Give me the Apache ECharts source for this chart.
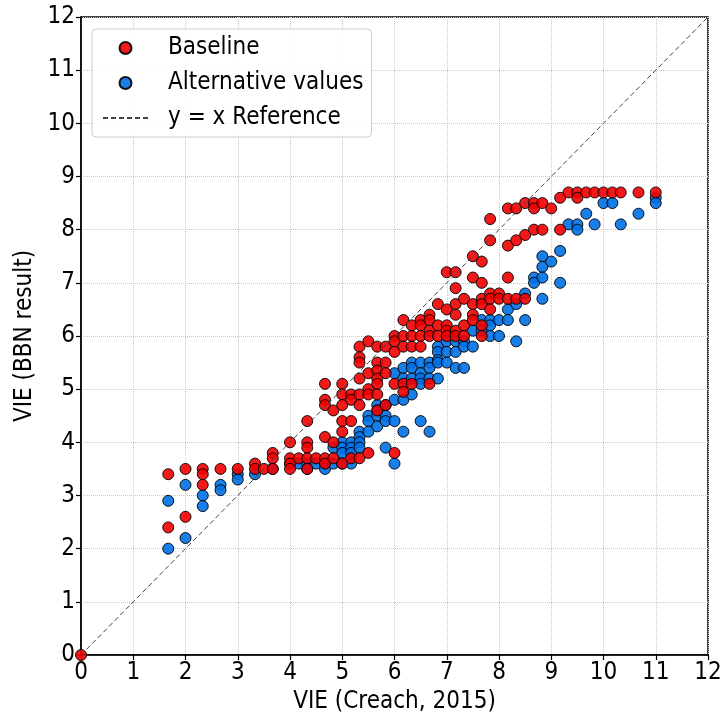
<!DOCTYPE html>
<html>
<head>
<meta charset="utf-8">
<script src="https://cdn.jsdelivr.net/npm/echarts@6/dist/echarts.min.js"></script>
<style>
  html, body { margin: 0; padding: 0; background: #fff; }
  #chart { width: 722px; height: 714px; }
</style>
</head>
<body>
<div id="chart"></div>
<script>
// 坐标轴刻度
const ticks = [0, 1, 2, 3, 4, 5, 6, 7, 8, 9, 10, 11, 12];
// y = x 参考线两端
const refLine = [0, 12];

// Baseline (red)
const baseline = [
  [0, 0],
  [1.67, 3.4], [1.67, 2.4],
  [2.0, 3.5], [2.0, 2.6],
  [2.33, 3.5], [2.33, 3.4], [2.33, 3.2],
  [2.67, 3.5],
  [3.0, 3.5],
  [3.33, 3.6], [3.33, 3.5], [3.5, 3.5],
  [3.67, 3.8], [3.67, 3.7], [3.67, 3.5],
  [4.0, 4.0], [4.0, 3.7], [4.0, 3.6], [4.0, 3.5],
  [4.17, 3.7],
  [4.33, 4.4], [4.33, 4.0], [4.33, 3.9], [4.33, 3.7], [4.33, 3.5],
  [4.5, 3.7],
  [4.67, 5.1], [4.67, 4.8], [4.67, 4.7], [4.67, 4.1], [4.67, 3.7], [4.67, 3.6],
  [4.83, 4.6], [4.83, 4.0], [4.83, 3.7],
  [5.0, 5.1], [5.0, 4.9], [5.0, 4.7], [5.0, 4.4], [5.0, 4.2], [5.0, 3.6],
  [5.17, 4.9], [5.17, 4.8], [5.17, 4.4], [5.17, 3.7],
  [5.33, 5.8], [5.33, 5.6], [5.33, 5.5], [5.33, 5.2], [5.33, 4.9], [5.33, 4.7], [5.33, 3.7],
  [5.5, 5.9], [5.5, 5.3], [5.5, 5.0], [5.5, 4.9], [5.5, 3.8],
  [5.67, 5.8], [5.67, 5.5], [5.67, 5.35], [5.67, 5.2], [5.67, 5.1], [5.67, 4.9], [5.67, 4.6],
  [5.83, 5.8], [5.83, 5.5], [5.83, 5.3], [5.83, 4.7],
  [6.0, 6.0], [6.0, 5.9], [6.0, 5.7], [6.0, 5.1], [6.0, 3.8],
  [6.17, 6.3], [6.17, 6.0], [6.17, 5.8], [6.17, 5.1], [6.17, 4.95],
  [6.33, 6.2], [6.33, 6.0], [6.33, 5.8], [6.33, 5.1],
  [6.5, 6.3], [6.5, 6.2], [6.5, 6.0], [6.5, 5.8],
  [6.67, 6.4], [6.67, 6.3], [6.67, 6.1], [6.67, 6.0], [6.67, 5.1],
  [6.83, 6.6], [6.83, 6.2], [6.83, 6.0],
  [7.0, 7.2], [7.0, 6.5], [7.0, 6.2], [7.0, 6.1], [7.0, 6.0],
  [7.17, 7.2], [7.17, 6.9], [7.17, 6.6], [7.17, 6.4], [7.17, 6.1], [7.17, 6.0],
  [7.33, 6.7], [7.33, 6.2], [7.33, 6.0],
  [7.5, 7.5], [7.5, 7.1], [7.5, 6.6], [7.5, 6.4], [7.5, 6.3],
  [7.67, 7.4], [7.67, 7.0], [7.67, 6.7], [7.67, 6.6], [7.67, 6.2], [7.67, 6.0],
  [7.83, 8.2], [7.83, 7.8], [7.83, 6.8], [7.83, 6.7], [7.83, 6.5],
  [8.0, 6.8], [8.0, 6.7],
  [8.17, 8.4], [8.17, 7.7], [8.17, 7.1], [8.17, 6.7],
  [8.33, 8.4], [8.33, 7.8], [8.33, 6.7],
  [8.5, 8.5], [8.5, 7.9], [8.5, 6.7],
  [8.67, 8.5], [8.67, 8.4], [8.67, 8.0],
  [8.83, 8.5], [8.83, 8.0],
  [9.0, 8.4],
  [9.17, 8.6], [9.17, 8.0],
  [9.33, 8.7], [9.5, 8.7], [9.5, 8.6], [9.67, 8.7], [9.83, 8.7], [10.0, 8.7],
  [10.17, 8.7], [10.33, 8.7], [10.67, 8.7], [11.0, 8.7]
];

// Alternative values (blue)
const alternative = [
  [1.67, 2.9], [1.67, 2.0],
  [2.0, 3.2], [2.0, 2.2],
  [2.33, 3.0], [2.33, 2.8],
  [2.67, 3.2], [2.67, 3.1],
  [3.0, 3.4], [3.0, 3.3],
  [3.33, 3.4],
  [3.67, 3.5],
  [4.0, 3.6], [4.17, 3.6],
  [4.33, 3.6], [4.33, 3.5],
  [4.5, 3.6],
  [4.67, 3.6], [4.67, 3.5],
  [4.83, 3.9], [4.83, 3.6],
  [5.0, 4.0], [5.0, 3.9], [5.0, 3.8], [5.0, 3.6],
  [5.17, 4.0], [5.17, 3.9], [5.17, 3.8], [5.17, 3.6],
  [5.33, 4.2], [5.33, 4.1], [5.33, 4.0], [5.33, 3.9],
  [5.5, 4.5], [5.5, 4.4], [5.5, 4.2],
  [5.67, 4.7], [5.67, 4.6], [5.67, 4.5], [5.67, 4.3],
  [5.83, 4.7], [5.83, 4.5], [5.83, 4.4], [5.83, 3.9],
  [6.0, 5.3], [6.0, 4.8], [6.0, 4.4], [6.0, 3.6],
  [6.17, 5.4], [6.17, 5.2], [6.17, 4.8], [6.17, 4.2],
  [6.33, 5.5], [6.33, 5.4], [6.33, 5.2], [6.33, 4.9],
  [6.5, 5.5], [6.5, 5.3], [6.5, 5.2], [6.5, 5.1], [6.5, 4.4],
  [6.67, 5.5], [6.67, 5.4], [6.67, 5.2], [6.67, 4.2],
  [6.83, 5.8], [6.83, 5.7], [6.83, 5.55], [6.83, 5.5], [6.83, 5.2],
  [7.0, 5.9], [7.0, 5.7], [7.0, 5.5],
  [7.17, 5.9], [7.17, 5.7], [7.17, 5.4],
  [7.33, 5.9], [7.33, 5.8], [7.33, 5.4],
  [7.5, 6.1], [7.5, 5.8],
  [7.67, 6.3], [7.67, 6.1],
  [7.83, 6.3], [7.83, 6.2], [7.83, 6.0],
  [8.0, 6.3], [8.0, 6.0],
  [8.17, 6.5], [8.17, 6.3],
  [8.33, 6.6], [8.33, 5.9],
  [8.5, 6.8], [8.5, 6.3],
  [8.67, 7.1], [8.67, 7.0],
  [8.83, 7.5], [8.83, 7.3], [8.83, 7.1], [8.83, 6.7],
  [9.0, 7.4],
  [9.17, 7.6], [9.17, 7.0],
  [9.33, 8.1], [9.5, 8.1], [9.5, 8.0], [9.67, 8.3], [9.83, 8.1],
  [10.0, 8.5], [10.17, 8.5], [10.33, 8.1], [10.67, 8.3], [11.0, 8.6], [11.0, 8.5]
];

const font = '"DejaVu Sans Condensed", "DejaVu Sans"';
let chart = echarts.init(document.getElementById('chart'));

let axisCommon = {
  type: 'value',
  min: ticks[0],
  max: ticks[ticks.length - 1],
  interval: 1,
  nameLocation: 'middle',
  nameTextStyle: { fontFamily: font, fontSize: 24, color: '#000' },
  axisLine: { show: true, lineStyle: { color: '#000', width: 1.5 } },
  axisTick: { show: true, inside: false, length: 5, lineStyle: { color: '#000', width: 1.2 } },
  axisLabel: { fontFamily: font, fontSize: 24, color: '#000', margin: 6 },
  splitLine: { show: true, lineStyle: { color: '#c8c8c8', type: 'dotted', width: 1 } }
};

let option = {
  animation: false,
  backgroundColor: '#fff',
  grid: {
    left: 81, right: 14, top: 17, bottom: 59,
    outerBoundsMode: 'none',
    containLabel: false,
    show: true, borderColor: '#000', borderWidth: 1.5
  },
  legend: {
    data: [
      'Baseline',
      'Alternative values',
      { name: 'y = x Reference', itemStyle: { opacity: 0 } }
    ],
    orient: 'vertical',
    left: 92,
    top: 29,
    padding: [6, 8, 6, 10],
    itemGap: 9,
    itemWidth: 45,
    itemHeight: 12,
    borderColor: '#ccc',
    borderWidth: 1,
    borderRadius: 4,
    backgroundColor: 'rgba(255,255,255,0.85)',
    textStyle: { fontFamily: font, fontSize: 24, color: '#000', lineHeight: 26, padding: [0, 0, 0, 15] }
  },
  xAxis: Object.assign({}, axisCommon, { name: 'VIE (Creach, 2015)', nameGap: 28 }),
  yAxis: Object.assign({}, axisCommon, { name: 'VIE (BBN result)', nameGap: 39 }),
  series: [
    {
      name: 'Alternative values',
      type: 'scatter',
      symbol: 'circle',
      symbolSize: 11,
      data: alternative,
      itemStyle: { color: 'rgb(0,112,228)', opacity: 0.9, borderColor: '#000', borderWidth: 1 },
      z: 2
    },
    {
      name: 'Baseline',
      type: 'scatter',
      symbol: 'circle',
      symbolSize: 11,
      data: baseline,
      itemStyle: { color: 'rgb(240,0,0)', opacity: 0.9, borderColor: '#000', borderWidth: 1 },
      z: 3
    },
    {
      name: 'y = x Reference',
      type: 'line',
      symbol: 'none',
      showSymbol: false,
      data: [[refLine[0], refLine[0]], [refLine[1], refLine[1]]],
      itemStyle: { color: '#444' },
      lineStyle: { color: '#444', width: 1, type: [5, 3] },
      z: 4
    }
  ]
};

chart.setOption(option);
</script>
</body>
</html>
